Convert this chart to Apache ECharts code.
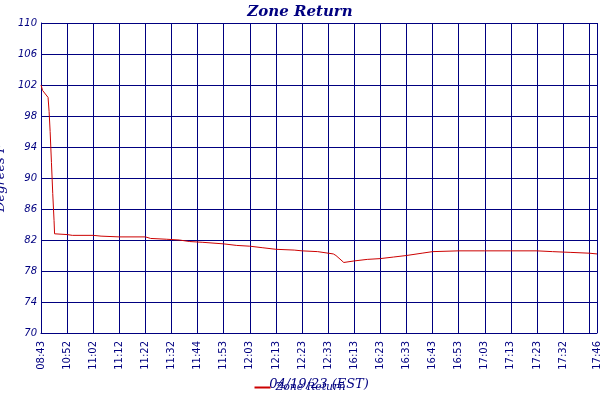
<!DOCTYPE html><html><head><meta charset="utf-8"><script src="https://cdn.jsdelivr.net/npm/echarts@6/dist/echarts.min.js"></script></head><body style="margin:0"><div id="c" style="width:600px;height:400px"></div><script>
var tickLabels=["08:43","10:52","11:02","11:12","11:22","11:32","11:44","11:53","12:03","12:13","12:23","12:33","16:13","16:23","16:33","16:43","16:53","17:03","17:13","17:23","17:32","17:42","17:46"];
var xPos=[0,0.06,0.27,0.31,0.35,0.40,0.45,0.50,0.52,1,1.2,2,2.3,3,4,4.2,4.8,5.3,5.7,6.2,7,7.5,8,8.5,9,9.7,10,10.6,11.2,11.3,11.6,12,12.5,13,13.5,14,14.6,15,16,17,18,19,19.6,20.3,21,21.3];
var yVals=[102,101.3,100.4,98.6,96,92,88,84.5,82.8,82.7,82.6,82.6,82.5,82.4,82.4,82.2,82.1,82.0,81.8,81.7,81.5,81.3,81.2,81.0,80.8,80.7,80.6,80.5,80.2,80.0,79.1,79.3,79.5,79.6,79.8,80.0,80.3,80.5,80.6,80.6,80.6,80.6,80.5,80.4,80.3,80.2];
var series=xPos.map(function(x,i){return [x,yVals[i]];});
var navy='#000080';
echarts.init(document.getElementById('c')).setOption({
 animation:false,
 title:{text:'Zone Return',left:'center',top:0,textStyle:{color:navy,fontStyle:'italic',fontSize:15,fontFamily:'DejaVu Serif',fontWeight:'bold'}},
 legend:{bottom:2,left:'center',textStyle:{color:navy,fontStyle:'italic',fontSize:11,fontFamily:'DejaVu Serif'},itemWidth:16,itemHeight:2,icon:'rect'},
 grid:{left:41,right:3,top:23,bottom:67,containLabel:false,outerBoundsMode:'none'},
 xAxis:{type:'value',min:0,max:21.3,interval:1,name:'04/19/23 (EST)',nameLocation:'middle',nameGap:38,
  nameTextStyle:{color:navy,fontStyle:'italic',fontSize:13,fontFamily:'DejaVu Serif'},
  axisLine:{lineStyle:{color:navy}},axisTick:{show:false},
  splitLine:{lineStyle:{color:navy,width:1}},
  axisLabel:{rotate:90,color:navy,fontSize:10,fontFamily:'DejaVu Sans',showMaxLabel:true,hideOverlap:false,formatter:function(v){if(Math.abs(v-21.3)<0.01)return tickLabels[22];var i=Math.round(v);return tickLabels[i]||'';}}},
 yAxis:{type:'value',min:70,max:110,interval:4,name:'Degrees F',nameLocation:'middle',nameGap:25,
  nameTextStyle:{color:navy,fontStyle:'italic',fontSize:13,fontFamily:'DejaVu Serif'},
  axisLine:{show:true,lineStyle:{color:navy}},axisTick:{show:false},
  splitLine:{lineStyle:{color:navy,width:1}},
  axisLabel:{color:navy,fontSize:10,fontStyle:'italic',fontFamily:'DejaVu Sans',margin:4}},
 series:[{name:'Zone Return',type:'line',data:series,showSymbol:false,lineStyle:{color:'#cc0000',width:1},itemStyle:{color:'#cc0000'}}]
});
</script></body></html>
